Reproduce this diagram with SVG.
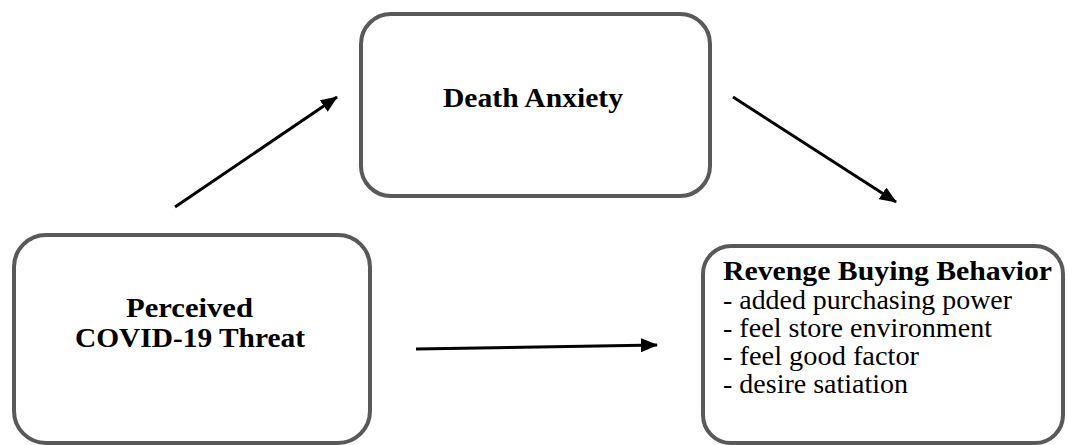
<svg xmlns="http://www.w3.org/2000/svg" width="1067" height="445" viewBox="0 0 1067 445">
<style>
.box{fill:#ffffff;stroke:#595959;stroke-width:4}
.t{font-family:"Liberation Serif","Times New Roman",serif;font-size:27px;fill:#000}
.b{font-weight:bold}
.c{stroke:#000;stroke-width:3;fill:none;marker-end:url(#ah)}
</style>
<defs>
<marker id="ah" markerUnits="userSpaceOnUse" markerWidth="18" markerHeight="14" refX="16" refY="7" orient="auto">
<path d="M0,0 L17,7 L0,14 z" fill="#000"/>
</marker>
</defs>
<rect width="1067" height="445" fill="#ffffff"/>
<g id="connectors">
<line class="c" x1="175" y1="207" x2="337" y2="97"/>
<line class="c" x1="733" y1="97" x2="896" y2="202"/>
<line class="c" x1="416" y1="349" x2="657" y2="345"/>
</g>
<g id="death-anxiety">
<rect class="box" x="361" y="14" width="349" height="182" rx="30" ry="30"/>
<text class="t b" x="443" y="107" textLength="180" lengthAdjust="spacingAndGlyphs">Death Anxiety</text>
</g>
<g id="perceived-threat">
<rect class="box" x="14" y="235" width="356" height="208" rx="32" ry="32"/>
<text class="t b" x="126" y="317" textLength="127" lengthAdjust="spacingAndGlyphs">Perceived</text>
<text class="t b" x="75" y="347" textLength="230" lengthAdjust="spacingAndGlyphs">COVID-19 Threat</text>
</g>
<g id="revenge-buying">
<rect class="box" x="703" y="246" width="360" height="197" rx="28" ry="28"/>
<text class="t b" x="723" y="280" textLength="329" lengthAdjust="spacingAndGlyphs">Revenge Buying Behavior</text>
<text class="t" x="723" y="308.5" textLength="289" lengthAdjust="spacingAndGlyphs">- added purchasing power</text>
<text class="t" x="723" y="336.5" textLength="269" lengthAdjust="spacingAndGlyphs">- feel store environment</text>
<text class="t" x="723" y="364.5" textLength="196" lengthAdjust="spacingAndGlyphs">- feel good factor</text>
<text class="t" x="723" y="392.5" textLength="185" lengthAdjust="spacingAndGlyphs">- desire satiation</text>
</g>
</svg>
